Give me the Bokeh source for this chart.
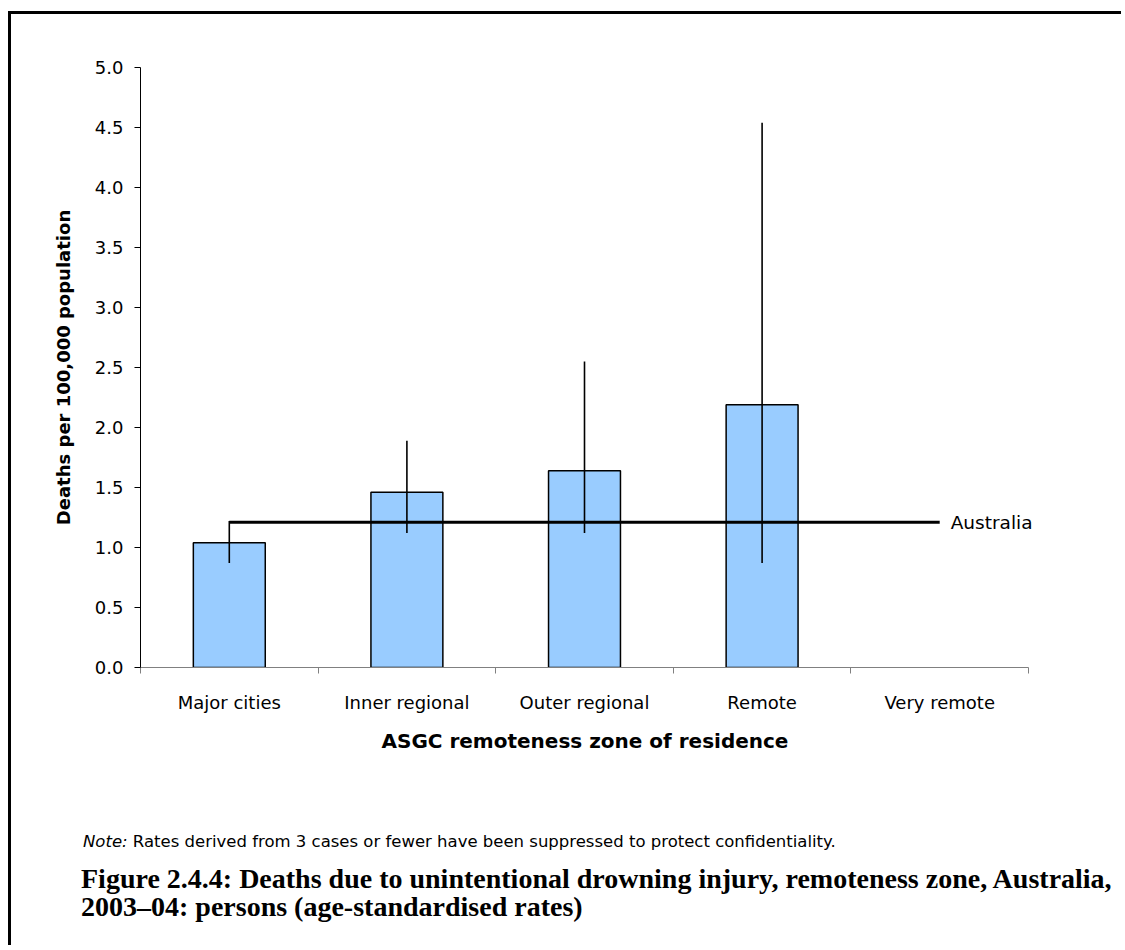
from bokeh.plotting import figure
from bokeh.layouts import column
from bokeh.models import (FixedTicker, Range1d, Div, ColumnDataSource,
                          NumeralTickFormatter, Title)
from bokeh.core.properties import value
from bokeh.embed import file_html
from bokeh.resources import INLINE

# ---------------- data ----------------
categories = ["Major cities", "Inner regional", "Outer regional", "Remote", "Very remote"]
rates = [1.04, 1.46, 1.64, 2.19, None]          # None = suppressed
ci_low = [0.87, 1.12, 1.12, 0.87, None]
ci_high = [1.22, 1.89, 2.55, 4.54, None]
australia_rate = 1.21
australia_label = "Australia"
y_ticks = [0.0, 0.5, 1.0, 1.5, 2.0, 2.5, 3.0, 3.5, 4.0, 4.5, 5.0]
y_label = "Deaths per 100,000 population"
x_label = "ASGC remoteness zone of residence"
note_lead = "Note:"
note_text = "Rates derived from 3 cases or fewer have been suppressed to protect confidentiality."
title_line1 = "Figure 2.4.4: Deaths due to unintentional drowning injury, remoteness zone, Australia,"
title_line2 = "2003\u201304: persons (age-standardised rates)"

# ---------------- layout (canvas px) ----------------
W, H = 1100, 781
FL, FT, FB = 129, 53, 653       # frame left / top / bottom
X_END = 1017                    # canvas x of the last category boundary
FR = 1075                       # frame right (room for the "Australia" label)
XTITLE_W = 406                  # rendered width of the x-axis title

n = len(categories)
centers = [i + 0.5 for i in range(n)]
bounds = [float(i) for i in range(n + 1)]
px_per_cat = (X_END - FL) / n
x_extra = (FR - X_END) / px_per_cat

p = figure(width=W, height=H, x_range=Range1d(0, n + x_extra), y_range=Range1d(0, 5),
           output_backend="svg", toolbar_location=None,
           min_border_left=FL, min_border_right=W - FR,
           min_border_top=FT, min_border_bottom=H - FB)
p.xgrid.visible = False
p.ygrid.visible = False
p.outline_line_color = None
p.background_fill_color = "white"
p.border_fill_color = "white"

FONT = "DejaVu Sans"

# y axis
p.yaxis.ticker = FixedTicker(ticks=y_ticks)
p.yaxis.formatter = NumeralTickFormatter(format="0.0")
p.yaxis.minor_tick_line_color = None
p.yaxis.major_tick_in = 0
p.yaxis.major_tick_out = 6
p.yaxis.major_label_standoff = 11
p.yaxis.major_label_text_font = FONT
p.yaxis.major_label_text_font_size = "18px"
p.yaxis.major_label_text_color = "black"
p.yaxis.axis_line_color = "black"
p.yaxis.major_tick_line_color = "black"
p.yaxis.axis_label = y_label
p.yaxis.axis_label_text_font = FONT
p.yaxis.axis_label_text_font_style = "bold"
p.yaxis.axis_label_text_font_size = "18px"
p.yaxis.axis_label_text_color = "black"
p.yaxis.axis_label_standoff = 18

# x axis: labels at centers, ticks at category boundaries
p.xaxis.bounds = (0, n)
p.xaxis.ticker = FixedTicker(ticks=centers, minor_ticks=bounds)
p.xaxis.major_label_overrides = {c: lab for c, lab in zip(centers, categories)}
p.xaxis.major_tick_in = 0
p.xaxis.major_tick_out = 0
p.xaxis.minor_tick_in = 0
p.xaxis.minor_tick_out = 6
p.xaxis.minor_tick_line_color = "#808080"
p.xaxis.axis_line_color = "#808080"
p.xaxis.major_label_standoff = 18
p.xaxis.major_label_text_font = FONT
p.xaxis.major_label_text_font_size = "18px"
p.xaxis.major_label_text_color = "black"

# x-axis title, centred under the category axis (not under the wider frame)
p.add_layout(Title(text=x_label, align="left",
                   offset=(X_END - FL) / 2 - XTITLE_W / 2,
                   text_font=FONT, text_font_style="bold", text_font_size="20px",
                   text_color="black", standoff=22), "below")

# bars (suppressed values skipped)
idx = [i for i, r in enumerate(rates) if r is not None]
bars = ColumnDataSource(dict(
    x=[centers[i] for i in idx],
    top=[rates[i] for i in idx],
    lo=[ci_low[i] for i in idx],
    hi=[ci_high[i] for i in idx],
))
p.vbar(x="x", top="top", bottom=0, width=0.405, source=bars,
       fill_color="#99CCFF", line_color="black", line_width=1.5)
p.segment(x0="x", x1="x", y0="lo", y1="hi", source=bars,
          line_color="black", line_width=1.6)

# Australia reference line
p.segment(x0=[centers[0]], x1=[centers[-1]], y0=[australia_rate], y1=[australia_rate],
          line_color="black", line_width=3)
p.text(x=[centers[-1]], y=[australia_rate], text=[australia_label], x_offset=11,
       text_baseline="middle", text_align="left",
       text_font=value(FONT), text_font_size="18.5px", text_color="black")

# note and figure title below the chart
info_html = (
    '<div style="margin:32px 0 0 67px; font-family:\'DejaVu Sans\'; font-size:16.5px; '
    'line-height:20px; color:black; white-space:nowrap;">'
    f'<i>{note_lead}</i> {note_text}</div>'
    '<div style="margin:13px 0 0 65px; font-family:\'Liberation Serif\'; font-weight:bold; '
    'font-size:28px; line-height:28px; color:black; white-space:nowrap;">'
    f'{title_line1}<br>{title_line2}</div>'
)
info = Div(text=info_html, width=W, height=140)

root = column(p, info, margin=(11, 0, 0, 8),
              styles={"border-left": "3px solid black", "border-top": "3px solid black"})

open("out.html", "w").write(file_html(root, INLINE))
